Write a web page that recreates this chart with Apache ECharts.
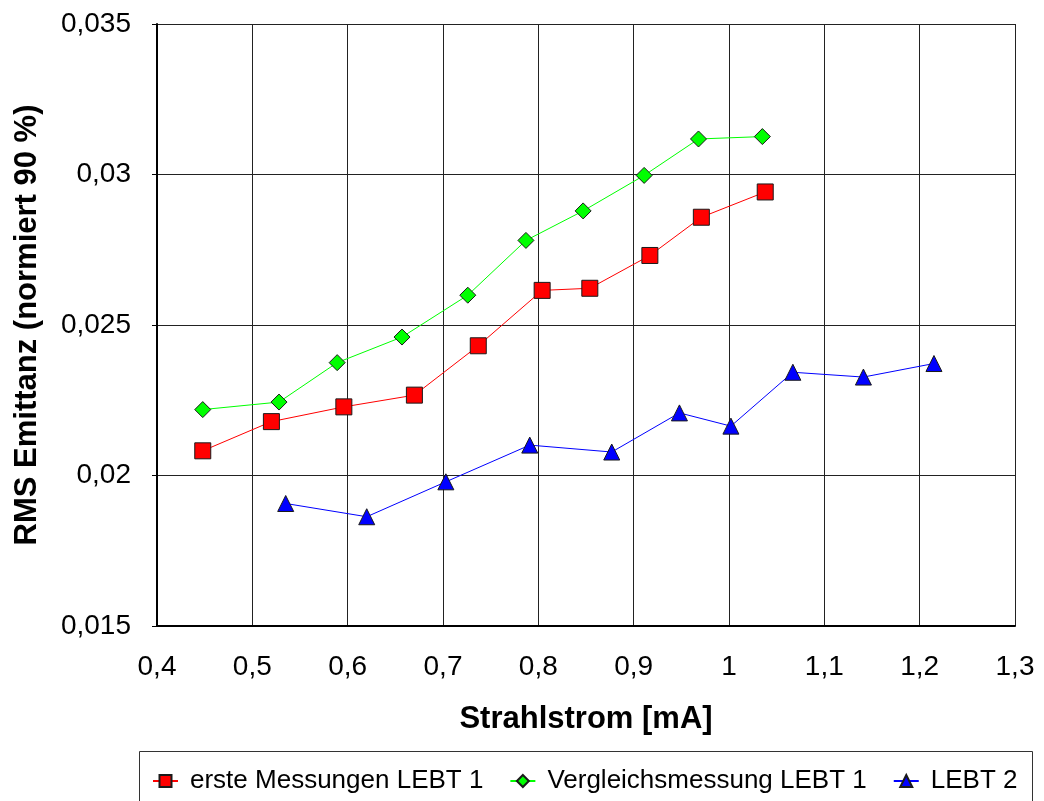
<!DOCTYPE html>
<html>
<head>
<meta charset="utf-8">
<style>
  html, body { margin: 0; padding: 0; background: #fff; }
  #chart { width: 1044px; height: 801px; }
</style>
<script src="https://cdn.jsdelivr.net/npm/echarts@6/dist/echarts.min.js"></script>
</head>
<body>
<div id="chart"></div>
<script>
// Beam current [mA] and RMS emittance (normalised 90 %) per measurement series
const ersteX = [0.448, 0.520, 0.596, 0.670, 0.737, 0.804, 0.854, 0.917, 0.971, 1.038];
const ersteY = [0.02082, 0.02179, 0.02228, 0.02267, 0.02431, 0.02615, 0.02622, 0.02731, 0.02858, 0.02942];

const vergleichX = [0.448, 0.528, 0.589, 0.657, 0.726, 0.787, 0.847, 0.911, 0.968, 1.035];
const vergleichY = [0.02219, 0.02244, 0.02375, 0.02460, 0.02599, 0.02781, 0.02879, 0.02997, 0.03118, 0.03126];

const lebt2X = [0.535, 0.620, 0.703, 0.791, 0.877, 0.948, 1.002, 1.067, 1.141, 1.215];
const lebt2Y = [0.01907, 0.01863, 0.01979, 0.02101, 0.02078, 0.02208, 0.02164, 0.02343, 0.02327, 0.02372];

const seriesNames = ['erste Messungen LEBT 1', 'Vergleichsmessung LEBT 1', 'LEBT 2'];
const xTitle = 'Strahlstrom [mA]';
const yTitle = 'RMS Emittanz (normiert 90 %)';

const pairs = (xs, ys) => xs.map((x, i) => [x, ys[i]]);
const deComma = v => String(Math.round(v * 1000) / 1000).replace('.', ',');
const FONT = '"Liberation Sans", Arial, sans-serif';

const chart = echarts.init(document.getElementById('chart'), null, { renderer: 'canvas' });

function lineSeries(name, data, color, symbol, size) {
  return {
    name, type: 'line', data,
    symbol, symbolSize: size,
    lineStyle: { color, width: 1 },
    itemStyle: { color, borderColor: '#1a1a1a', borderWidth: 1 },
    emphasis: { disabled: true },
    animation: false,
    z: 3
  };
}

chart.setOption({
  animation: false,
  backgroundColor: '#fff',
  grid: { left: 157, right: 29, top: 24, bottom: 175, containLabel: false },
  graphic: [{
    type: 'rect',
    shape: { x: 139.5, y: 751.5, width: 893, height: 70 },
    style: { fill: '#fff', stroke: '#333', lineWidth: 1 },
    z: 0
  }],
  legend: {
    left: 147, top: 763,
    itemWidth: 25, itemHeight: 15, itemGap: 26,
    textStyle: { fontFamily: FONT, fontSize: 26, color: '#000', padding: [0, 0, 0, 7] },
    data: seriesNames,
    z: 5
  },
  xAxis: {
    type: 'value', min: 0.4, max: 1.3, interval: 0.1,
    name: xTitle, nameLocation: 'middle', nameGap: 78,
    nameTextStyle: { fontFamily: FONT, fontSize: 31, fontWeight: 'bold', color: '#000' },
    axisLine: { lineStyle: { color: '#000', width: 2 } },
    axisTick: { show: false },
    axisLabel: { margin: 27, fontFamily: FONT, fontSize: 28, color: '#000', formatter: deComma },
    splitLine: { show: true, lineStyle: { color: '#222', width: 1 } }
  },
  yAxis: {
    type: 'value', min: 0.015, max: 0.035, interval: 0.005,
    name: yTitle, nameLocation: 'middle', nameGap: 114, nameRotate: 90,
    nameTextStyle: { fontFamily: FONT, fontSize: 31, fontWeight: 'bold', color: '#000' },
    axisLine: { show: true, lineStyle: { color: '#000', width: 2 } },
    axisTick: { show: true, inside: false, length: 5, lineStyle: { color: '#000' } },
    axisLabel: { margin: 26, fontFamily: FONT, fontSize: 28, color: '#000', formatter: deComma },
    splitLine: { show: true, lineStyle: { color: '#222', width: 1 } }
  },
  series: [
    lineSeries(seriesNames[0], pairs(ersteX, ersteY), '#ff0000', 'rect', 16),
    lineSeries(seriesNames[1], pairs(vergleichX, vergleichY), '#00ff00', 'diamond', 16),
    lineSeries(seriesNames[2], pairs(lebt2X, lebt2Y), '#0000ff', 'triangle', 16)
  ]
});
</script>
</body>
</html>
